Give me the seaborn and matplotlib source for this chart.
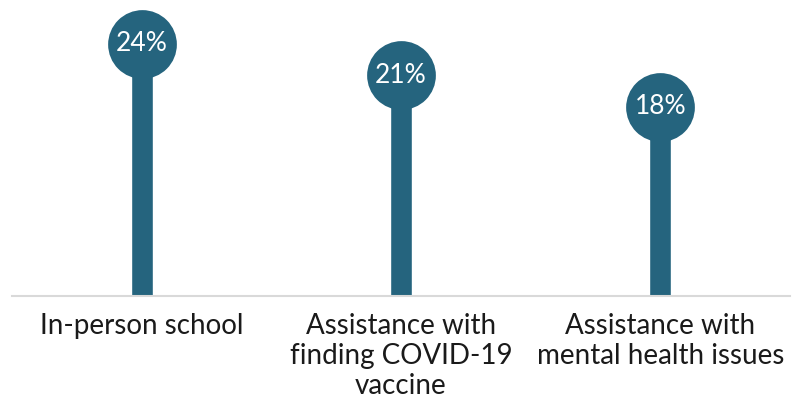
import seaborn as sns
import numpy as np
import matplotlib.pyplot as plt

# Share of respondents
categories = ["In-person school", "Assistance with\nfinding COVID-19\nvaccine", "Assistance with\nmental health issues"]
values = [24, 21, 18]
labels = ["24%", "21%", "18%"]

color = "#25647E"

sns.set_style("white")
plt.rcParams['font.family'] = ['Lato', 'DejaVu Sans']

fig = plt.figure(figsize=(7.99, 4.05), dpi=100)
ax = fig.add_axes([12 / 799, 1 - 296 / 405, 778 / 799, 296 / 405])

sns.barplot(x=categories, y=values, color=color, width=0.085, saturation=1, ax=ax)
ax.scatter(range(len(values)), values, s=2450, color=color, zorder=3, linewidths=0)
for i, (v, lab) in enumerate(zip(values, labels)):
    ax.text(i, v, lab, ha='center', va='center', color='white', fontsize=19, zorder=4)

ax.set_xlim(-0.5, 2.5)
ax.set_ylim(0, 28.19)
ax.set_yticks([])
sns.despine(ax=ax, left=True)
ax.spines['bottom'].set_color('#D9D9D9')
ax.spines['bottom'].set_linewidth(1.5)
ax.tick_params(axis='x', length=0, pad=12, labelsize=20, labelcolor='#1a1a1a')
for t in ax.get_xticklabels():
    t.set_linespacing(1.2)

fig.savefig("out.png", dpi=100)
